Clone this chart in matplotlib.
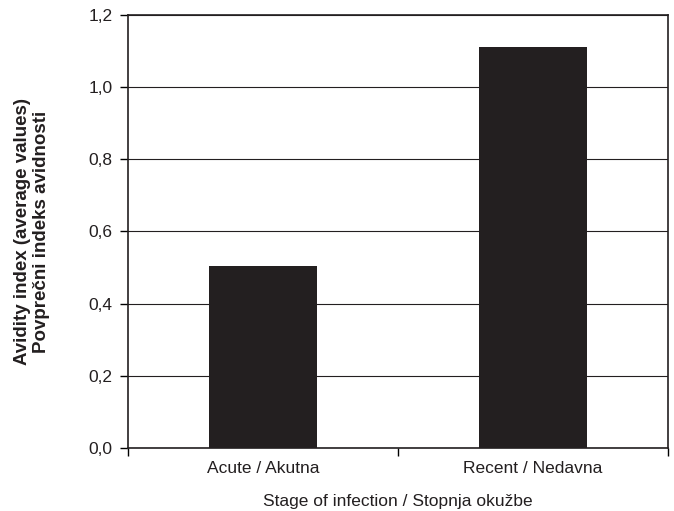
import matplotlib.pyplot as plt

# values
stages = ["Acute / Akutna", "Recent / Nedavna"]
avidity = [0.505, 1.11]
y_ticks = [0.0, 0.2, 0.4, 0.6, 0.8, 1.0, 1.2]
y_labels = ["0,0", "0,2", "0,4", "0,6", "0,8", "1,0", "1,2"]

plt.rcParams["font.family"] = ["Liberation Sans", "DejaVu Sans"]

fig = plt.figure(figsize=(6.74, 5.11), dpi=100)
ax = fig.add_axes([0.19, 0.123, 0.801, 0.848])

x = [0, 1]
ax.bar(x, avidity, width=0.4, color="#231f20", zorder=3)

ax.set_xlim(-0.5, 1.5)
ax.set_ylim(0, 1.2)
ax.set_yticks(y_ticks)
ax.set_yticklabels(y_labels, fontsize=12.5, color="#231f20")
ax.yaxis.grid(True, color="#231f20", linewidth=0.8, zorder=0)

# ticks sit on category boundaries, labels centred under bars
ax.set_xticks([-0.5, 0.5, 1.5])
ax.set_xticklabels([])
ax.set_xticks(x, minor=True)
ax.set_xticklabels(stages, minor=True, fontsize=12.5, color="#231f20")
ax.tick_params(axis="x", which="minor", length=0, pad=9)
ax.tick_params(axis="x", which="major", length=6, direction="out", width=1)
ax.tick_params(axis="y", length=6, direction="out", width=1, pad=5)

for s in ax.spines.values():
    s.set_color("#231f20")
    s.set_linewidth(1.2)

ax.set_xlabel("Stage of infection / Stopnja okužbe", fontsize=12.5, labelpad=13, color="#231f20")
ax.set_ylabel("Avidity index (average values)\nPovprečni indeks avidnosti", fontsize=13.5,
              fontweight="bold", labelpad=28, color="#231f20", linespacing=1.15)

fig.savefig("out.png", dpi=100)
